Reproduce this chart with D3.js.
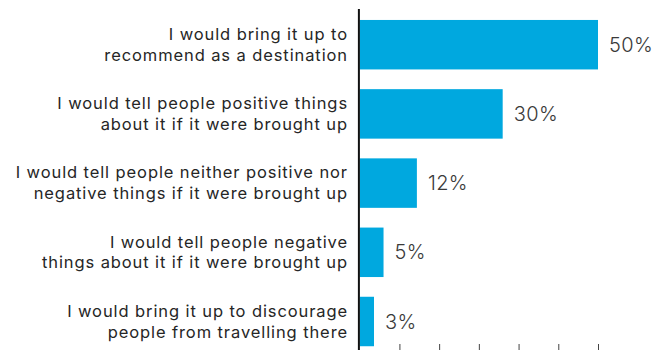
<!DOCTYPE html>
<html>
<head>
<meta charset="utf-8">
<script src="https://cdn.jsdelivr.net/npm/d3@7"></script>
<style>
  html, body { margin: 0; padding: 0; background: #fff; }
  svg { display: block; }
  .cat { font-family: Inter, "Noto Sans", sans-serif; font-weight: 400; font-size: 16.5px; letter-spacing: 0.9px; fill: #262626; }
  .val { font-family: Inter, "Noto Sans", sans-serif; font-weight: 300; font-size: 20px; letter-spacing: 0.4px; fill: #3a3a3a; }
</style>
</head>
<body>
<svg id="chart" width="668" height="350"></svg>
<script>
// Survey responses: how people would talk about the destination
const categories = [
  ["I would bring it up to", "recommend as a destination"],
  ["I would tell people positive things", "about it if it were brought up"],
  ["I would tell people neither positive nor", "negative things if it were brought up"],
  ["I would tell people negative", "things about it if it were brought up"],
  ["I would bring it up to discourage", "people from travelling there"]
];
const values = [50, 30, 12, 5, 3];
const tickValues = [0, 1, 2, 3, 4, 5, 6].map(i => i * 50 / 6);

const svg = d3.select("#chart");
const x0 = 359.7;
const x = d3.scaleLinear().domain([0, 50]).range([x0, x0 + 238.3]);
const y = d3.scaleBand()
  .domain(d3.range(values.length))
  .range([10.1, 356.1])
  .paddingInner(0.285)
  .paddingOuter(0.1425);

// bars
svg.append("g").selectAll("rect")
  .data(values)
  .join("rect")
  .attr("x", x(0))
  .attr("y", (d, i) => y(i))
  .attr("width", d => x(d) - x(0))
  .attr("height", y.bandwidth())
  .attr("fill", "#00a8df");

// value labels
svg.append("g").selectAll("text")
  .data(values)
  .join("text")
  .attr("class", "val")
  .attr("x", d => x(d) + 11)
  .attr("y", (d, i) => y(i) + y.bandwidth() / 2)
  .attr("dy", "0.35em")
  .text(d => d + "%");

// category labels, two lines each
const labels = svg.append("g").selectAll("text")
  .data(categories)
  .join("text")
  .attr("class", "cat")
  .attr("text-anchor", "end")
  .attr("y", (d, i) => y(i) + y.bandwidth() / 2);
labels.selectAll("tspan")
  .data(d => d)
  .join("tspan")
  .attr("x", 348)
  .attr("dy", (d, j) => j === 0 ? "-0.28em" : "1.26em")
  .text(d => d);

// bottom axis ticks
const axis = d3.axisBottom(x).tickValues(tickValues).tickSize(7).tickFormat("");
const gx = svg.append("g").attr("transform", "translate(0,344)").call(axis);
gx.select(".domain").remove();
gx.selectAll(".tick line").attr("stroke", "#444").attr("stroke-width", 1);
gx.selectAll(".tick").filter(d => d === 0).remove();

// vertical baseline
svg.append("line")
  .attr("x1", x(0) - 0.8).attr("x2", x(0) - 0.8)
  .attr("y1", y.range()[0] - 1).attr("y2", 350)
  .attr("stroke", "#111").attr("stroke-width", 2);
</script>
</body>
</html>
